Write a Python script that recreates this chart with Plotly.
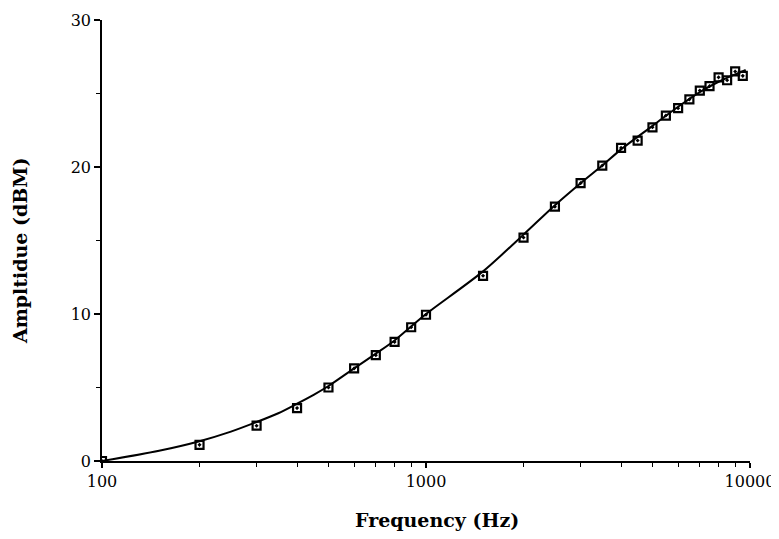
import plotly.graph_objects as go

# measured data points
freq_pts = [100, 200, 300, 400, 500, 600, 700, 800, 900, 1000,
            1500, 2000, 2500, 3000, 3500, 4000, 4500, 5000, 5500, 6000,
            6500, 7000, 7500, 8000, 8500, 9000, 9500]
amp_pts = [0.0, 1.1, 2.4, 3.6, 5.0, 6.3, 7.2, 8.1, 9.1, 9.95,
           12.6, 15.2, 17.3, 18.9, 20.1, 21.3, 21.8, 22.7, 23.5, 24.0,
           24.6, 25.2, 25.5, 26.1, 25.9, 26.5, 26.2]

# fitted curve
freq_fit = [100, 150, 200, 250, 300, 350, 400, 450, 500, 600, 700, 800, 900, 1000,
            1500, 2000, 2500, 3000, 3500, 4000, 5000, 6000, 7000, 8000, 9000, 9700]
amp_fit = [0.0, 0.7, 1.35, 2.0, 2.65, 3.25, 3.9, 4.5, 5.1, 6.3, 7.3, 8.2, 9.15, 10.0,
           12.9, 15.4, 17.4, 18.9, 20.1, 21.2, 22.8, 24.1, 25.1, 25.8, 26.3, 26.6]

x_ticks = [100, 1000, 10000]
x_minor = [200, 300, 400, 500, 600, 700, 800, 900,
           2000, 3000, 4000, 5000, 6000, 7000, 8000, 9000]

fig = go.Figure()
fig.add_trace(go.Scatter(x=freq_fit, y=amp_fit, mode="lines",
                         line=dict(color="black", width=2, shape="spline", smoothing=0.8),
                         showlegend=False, hoverinfo="skip"))
fig.add_trace(go.Scatter(x=freq_pts, y=amp_pts, mode="markers",
                         marker=dict(symbol="square-open-dot", size=8, color="black",
                                     line=dict(color="black", width=2.2)),
                         showlegend=False))

tick_font = "DejaVu Serif"
title_font = "DejaVu Serif"
# the page body adds an 8px offset, so the figure is 8px smaller than the window
fig.update_layout(
    width=771, height=531,
    margin=dict(l=94, r=29, t=12, b=78, autoexpand=False),
    plot_bgcolor="white", paper_bgcolor="white",
    font=dict(family=tick_font, color="black", size=16),
    xaxis=dict(type="log", range=[2, 4], tickvals=x_ticks, ticktext=["100", "1000", "10000"],
               showgrid=False, zeroline=False, showline=True, linecolor="black", linewidth=1.5,
               ticks="outside", ticklen=5, tickwidth=1.5, tickcolor="black",
               minor=dict(tickvals=x_minor, ticks="outside", ticklen=4, tickwidth=1.2,
                          tickcolor="black", showgrid=False),
               tickfont=dict(family=tick_font, size=16)),
    yaxis=dict(range=[0, 30], tickvals=[0, 10, 20, 30],
               showgrid=False, zeroline=False, showline=True, linecolor="black", linewidth=1.5,
               ticks="outside", ticklen=6, tickwidth=1.5, tickcolor="black",
               minor=dict(dtick=5, ticks="outside", ticklen=4, tickwidth=1.2,
                          tickcolor="black", showgrid=False),
               tickfont=dict(family=tick_font, size=16)),
    annotations=[
        dict(text="<b>Frequency (Hz)</b>", xref="paper", yref="paper", x=0.517, y=-0.134,
             xanchor="center", yanchor="middle", showarrow=False,
             font=dict(family=title_font, size=19)),
        dict(text="<b>Ampltidue (dBM)</b>", xref="paper", yref="paper", x=-0.1265, y=0.476,
             xanchor="center", yanchor="middle", showarrow=False, textangle=-90,
             font=dict(family=title_font, size=19)),
    ],
)

fig.write_html("out.html")
